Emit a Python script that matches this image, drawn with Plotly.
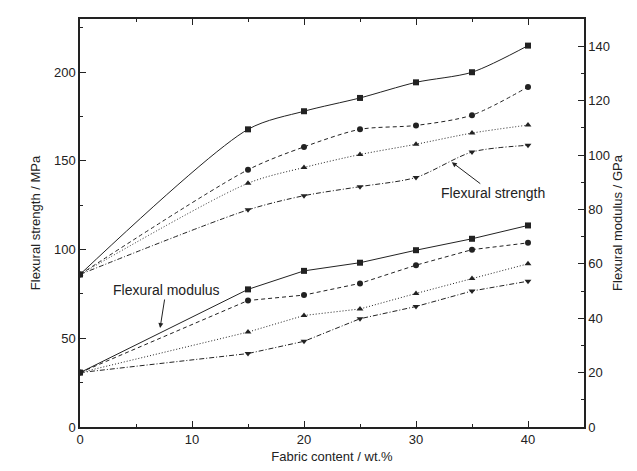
import plotly.graph_objects as go

fabric = [0, 15, 20, 25, 30, 35, 40]

# Flexural strength (MPa), left axis
strength_sq = [86, 167.8, 178, 185.5, 194.3, 200, 215]
strength_ci = [86, 145, 157.9, 167.8, 170, 175.8, 191.7]
strength_tu = [86, 137.4, 146.3, 153.6, 159.4, 165.7, 170.2]
strength_td = [86, 122.4, 130.4, 135.5, 140.7, 155, 158.8]

# Flexural modulus (GPa), right axis
modulus_sq = [20, 50.6, 57.4, 60.4, 65, 69.2, 74.1]
modulus_ci = [20, 46.5, 48.5, 52.8, 59.5, 65.2, 67.7]
modulus_tu = [20, 34.9, 41, 43.4, 49.1, 54.6, 60]
modulus_td = [20, 27, 31.5, 39.8, 44.3, 50, 53.6]

styles = [
    ("square", "solid"),
    ("circle", "4px,3px"),
    ("triangle-up", "1px,2px"),
    ("triangle-down", "5px,2px,1px,2px"),
]

fig = go.Figure()
for vals, (sym, dash) in zip([strength_sq, strength_ci, strength_tu, strength_td], styles):
    fig.add_trace(go.Scatter(
        x=fabric, y=vals, mode="lines+markers", yaxis="y",
        line=dict(color="#222", width=1, dash=dash, shape="spline", smoothing=0.8),
        marker=dict(symbol=sym, size=6, color="#222"),
        showlegend=False))
for vals, (sym, dash) in zip([modulus_sq, modulus_ci, modulus_tu, modulus_td], styles):
    fig.add_trace(go.Scatter(
        x=fabric, y=vals, mode="lines+markers", yaxis="y2",
        line=dict(color="#222", width=1, dash=dash),
        marker=dict(symbol=sym, size=6, color="#222"),
        showlegend=False))

font = "Liberation Sans, Arial, sans-serif"
fig.update_layout(
    width=637, height=471,
    margin=dict(l=72, r=61, t=9, b=52),
    plot_bgcolor="white", paper_bgcolor="white",
    font=dict(family=font, size=13, color="#222"),
    xaxis=dict(range=[0, 45], dtick=10, tick0=0, ticks="inside", ticklen=6,
               showgrid=False, zeroline=False, showline=True, linecolor="#222",
               linewidth=1.5, mirror="ticks", tickcolor="#222",
               minor=dict(dtick=5, ticks="inside", ticklen=3, tickcolor="#222"),
               title=dict(text="Fabric content / wt.%", font=dict(size=13), standoff=6)),
    yaxis=dict(range=[0, 230], dtick=50, tick0=0, ticks="inside", ticklen=6,
               showgrid=False, zeroline=False, showline=True, linecolor="#222",
               linewidth=1.5, tickcolor="#222",
               minor=dict(dtick=25, ticks="inside", ticklen=3, tickcolor="#222"),
               title=dict(text="Flexural strength / MPa", font=dict(size=13), standoff=10)),
    yaxis2=dict(range=[0, 150], dtick=20, tick0=0, ticks="inside", ticklen=6,
                overlaying="y", side="right",
                showgrid=False, zeroline=False, showline=True, linecolor="#222",
                linewidth=1.5, tickcolor="#222",
                minor=dict(dtick=10, ticks="inside", ticklen=3, tickcolor="#222"),
                title=dict(text="Flexural modulus / GPa", font=dict(size=13), standoff=2)),
)

# Annotations with arrows pointing at curves
fig.add_annotation(x=33.2, y=149.3, xref="x", yref="y",
                   ax=41, ay=31, text="Flexural strength",
                   showarrow=True, arrowhead=2, arrowsize=1, arrowwidth=1,
                   arrowcolor="#222", font=dict(size=14))
fig.add_annotation(x=7.15, y=36.4, xref="x", yref="y2",
                   ax=6, ay=-38, text="Flexural modulus",
                   showarrow=True, arrowhead=2, arrowsize=1, arrowwidth=1,
                   arrowcolor="#222", font=dict(size=14))

fig.write_html("out.html")
